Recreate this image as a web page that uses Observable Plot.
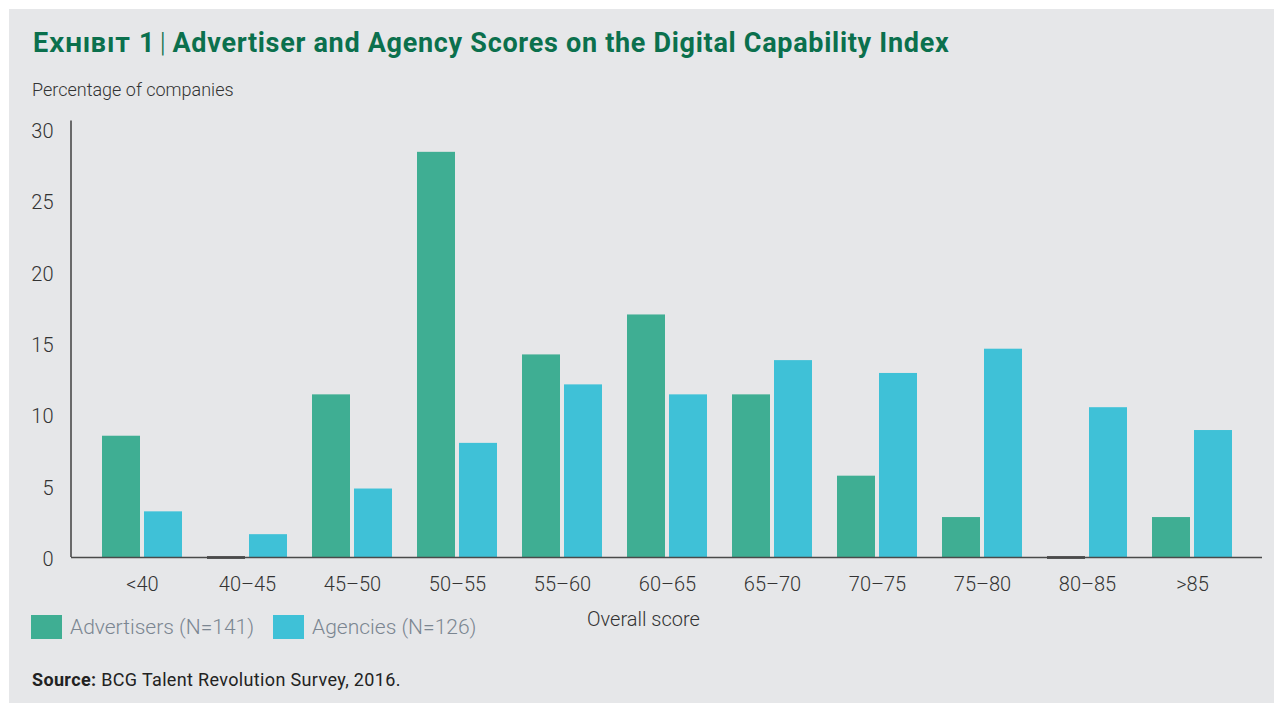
<!DOCTYPE html>
<html>
<head>
<meta charset="utf-8">
<script src="https://cdn.jsdelivr.net/npm/d3@7"></script>
<script src="https://cdn.jsdelivr.net/npm/@observablehq/plot@0.6"></script>
<style>
  html, body { margin: 0; padding: 0; background: #ffffff; }
  #wrap { position: relative; width: 1274px; height: 703px; overflow: hidden; font-family: Roboto, "Noto Sans", sans-serif; }
  #panel { position: absolute; left: 9px; top: 9px; right: 0; bottom: 0; background: #e6e7e9; }
  .abs { position: absolute; white-space: nowrap; }
  #title { left: 33px; top: 28px; font-size: 27px; line-height: 30px; font-weight: 700; color: #0b704d; letter-spacing: 0.7px; }
  #title .ex { font-variant: small-caps; letter-spacing: 1.2px; }
  #title .bar { font-weight: 300; margin: 0 6px 0 4px; }
  #subtitle { left: 32px; top: 80px; font-size: 18px; line-height: 20px; font-weight: 300; color: #333; }
  #xlabel { left: 587px; top: 608px; font-size: 20px; line-height: 22px; font-weight: 300; color: #333; }
  #legend { left: 31px; top: 615px; display: flex; align-items: center; font-size: 21px; line-height: 24px; font-weight: 300; color: #7b8691; }
  #legend .item { display: flex; align-items: center; margin-right: 19px; }
  #legend .sw { width: 31px; height: 24px; margin-right: 8px; }
  #source { left: 32px; top: 670px; font-size: 18px; line-height: 20px; color: #222; letter-spacing: 0.35px; }
  #chart { position: absolute; left: 0; top: 100px; }
</style>
</head>
<body>
<div id="wrap">
  <div id="panel"></div>
  <div id="title" class="abs"><span class="ex">Exhibit 1</span><span class="bar">|</span>Advertiser and Agency Scores on the Digital Capability Index</div>
  <div id="subtitle" class="abs">Percentage of companies</div>
  <div id="chart"></div>
  <div id="legend" class="abs"></div>
  <div id="xlabel" class="abs">Overall score</div>
  <div id="source" class="abs"><b>Source:</b> BCG Talent Revolution Survey, 2016.</div>
</div>
<script>
const categories = ["<40", "40–45", "45–50", "50–55", "55–60", "60–65", "65–70", "70–75", "75–80", "80–85", ">85"];
const advertisers = [8.5, 0, 11.4, 28.4, 14.2, 17.0, 11.4, 5.7, 2.8, 0, 2.8];
const agencies = [3.2, 1.6, 4.8, 8.0, 12.1, 11.4, 13.8, 12.9, 14.6, 10.5, 8.9];
const seriesNames = ["Advertisers (N=141)", "Agencies (N=126)"];
const seriesColors = ["#3fae93", "#3fc1d7"];
const yTicks = [0, 5, 10, 15, 20, 25, 30];

const advData = categories.map((c, i) => ({category: c, value: advertisers[i]}));
const agData = categories.map((c, i) => ({category: c, value: agencies[i]}));

const marginLeft = 71;
const chart = Plot.plot({
  width: 1274,
  height: 500,
  marginLeft,
  marginRight: 12,
  marginTop: 29,
  marginBottom: 43,
  style: {fontFamily: "Roboto, 'Noto Sans', sans-serif", fontSize: "20px", fontWeight: 300, color: "#333", background: "transparent", overflow: "visible"},
  x: {domain: categories, paddingInner: 0.24, paddingOuter: 0.285, tickSize: 0, tickPadding: 19, label: null},
  y: {domain: [0, 30], axis: null},
  marks: [
    Plot.barY(advData, {x: "category", y: "value", fill: seriesColors[0], insetLeft: 0, insetRight: 42}),
    Plot.barY(agData, {x: "category", y: "value", fill: seriesColors[1], insetLeft: 42, insetRight: 0}),
    Plot.tickY(advData.filter(d => d.value === 0), {x: "category", y: "value", stroke: "#2a2a2a", strokeWidth: 2.5, insetRight: 42}),
    Plot.ruleY([0], {stroke: "#4a4a4a", strokeWidth: 1.6}),
    Plot.text(yTicks, {y: d => d, text: d => String(d), frameAnchor: "left", dx: -18, dy: 2, textAnchor: "end", fill: "#333", fontSize: 20})
  ]
});
document.getElementById("chart").appendChild(chart);

// vertical y-axis line drawn with the plot's own y scale
const ys = chart.scale("y");
d3.select(chart).append("line")
  .attr("x1", marginLeft).attr("x2", marginLeft)
  .attr("y1", ys.apply(0)).attr("y2", ys.apply(30.6))
  .attr("stroke", "#4a4a4a").attr("stroke-width", 1.6);

const legend = d3.select("#legend");
seriesNames.forEach((name, i) => {
  const item = legend.append("div").attr("class", "item");
  item.append("div").attr("class", "sw").style("background", seriesColors[i]);
  item.append("span").text(name);
});
</script>
</body>
</html>
